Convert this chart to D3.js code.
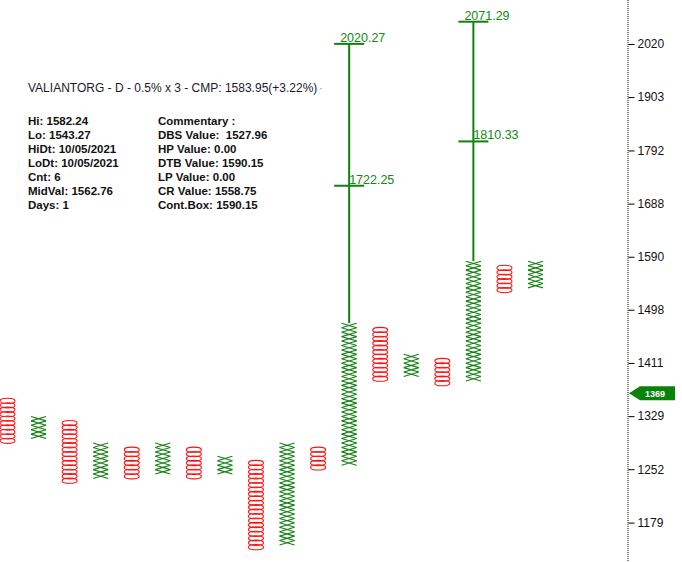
<!DOCTYPE html>
<html>
<head>
<meta charset="utf-8">
<script src="https://cdn.jsdelivr.net/npm/d3@7"></script>
<style>
body { margin:0; background:#fff; }
svg { display:block; font-family: Arial, 'Liberation Sans', sans-serif; }
</style>
</head>
<body>
<svg width="682" height="562"></svg>
<script>
// column data (box edges as prices)
var colType = ['O','X','O','X','O','X','O','X','O','X','O','X','O','X','O','X','O','X'];
var colHigh = [1355.4,1328.6,1322.0,1289.4,1283.0,1289.4,1283.0,1270.3,1264.0,1289.4,1283.0,1475.3,1468.0,1424.7,1417.6,1582.0,1574.1,1582.0];
var colLow  = [1289.4,1295.9,1232.8,1239.0,1239.0,1245.2,1239.0,1245.2,1144.0,1149.7,1251.4,1257.7,1382.7,1389.6,1375.8,1382.7,1527.7,1535.4];

var targetCols = [11, 15];
var targetHigh = [2020.27, 2071.29];
var targetMid  = [1722.25, 1810.33];

var tickValues = [2020,1903,1792,1688,1590,1498,1411,1329,1252,1179];
var lastPrice = 1369;

var infoLeft = ['Hi: 1582.24','Lo: 1543.27','HiDt: 10/05/2021','LoDt: 10/05/2021','Cnt: 6','MidVal: 1562.76','Days: 1'];
var infoRight = ['Commentary :','DBS Value:  1527.96','HP Value: 0.00','DTB Value: 1590.15','LP Value: 0.00','CR Value: 1558.75','Cont.Box: 1590.15'];
var title = 'VALIANTORG - D - 0.5% x 3 - CMP: 1583.95(+3.22%)';

var boxPct = 1.005;
var green = '#137f13';

var svg = d3.select('svg');

var scaleX = d3.scaleLinear().domain([0, 17]).range([7.5, 535.5]);
var scaleY = d3.scaleLog().domain([2020, 1179]).range([44, 522.6]);

// axis on the right
var axisX = 628;
svg.append('line')
    .attr('x1', axisX).attr('x2', axisX)
    .attr('y1', 0).attr('y2', 562)
    .attr('stroke', '#000')
    .attr('stroke-width', 1)
    .attr('stroke-dasharray', '1,1');

var yAxis = svg.append('g')
    .attr('transform', 'translate(' + (axisX + 0.5) + ',0)')
    .call(d3.axisRight(scaleY).tickValues(tickValues).tickSize(6).tickPadding(3).tickFormat(d3.format('d')));
yAxis.select('.domain').remove();
yAxis.selectAll('text').attr('font-size', 12).attr('fill', '#111').attr('font-family', 'Arial, Liberation Sans, sans-serif');
yAxis.selectAll('line').attr('stroke', '#000');

// boxes
var boxes = [];
colType.forEach(function(t, i) {
    var n = Math.round(Math.log(colHigh[i] / colLow[i]) / Math.log(boxPct));
    for (var k = 0; k < n; k++) {
        var top = colHigh[i] / Math.pow(boxPct, k);
        boxes.push({col: i, type: t, top: top, bottom: top / boxPct});
    }
});

var oBoxes = boxes.filter(function(d) { return d.type == 'O'; });
var xBoxes = boxes.filter(function(d) { return d.type == 'X'; });

svg.append('g').selectAll('ellipse')
    .data(oBoxes)
    .enter()
    .append('ellipse')
    .attr('cx', function(d) { return scaleX(d.col); })
    .attr('cy', function(d) { return (scaleY(d.top) + scaleY(d.bottom)) / 2; })
    .attr('rx', 7.5)
    .attr('ry', 2.6)
    .attr('fill', 'none')
    .attr('stroke', '#ff1010')
    .attr('stroke-width', 1.1);

svg.append('g').selectAll('path')
    .data(xBoxes)
    .enter()
    .append('path')
    .attr('d', function(d) {
        var cx = scaleX(d.col), y1 = scaleY(d.top), y2 = scaleY(d.bottom);
        return 'M' + (cx - 7.5) + ',' + y1 + 'L' + (cx + 7.5) + ',' + y2 +
               'M' + (cx + 7.5) + ',' + y1 + 'L' + (cx - 7.5) + ',' + y2;
    })
    .attr('fill', 'none')
    .attr('stroke', green)
    .attr('stroke-width', 1.1);

// price targets
targetCols.forEach(function(c, i) {
    var cx = scaleX(c);
    svg.append('line')
        .attr('x1', cx).attr('x2', cx)
        .attr('y1', scaleY(targetHigh[i]))
        .attr('y2', scaleY(colHigh[c]))
        .attr('stroke', green).attr('stroke-width', 2);
    [targetHigh[i], targetMid[i]].forEach(function(v, j) {
        svg.append('line')
            .attr('x1', cx - 15).attr('x2', cx + 15)
            .attr('y1', scaleY(v)).attr('y2', scaleY(v))
            .attr('stroke', green).attr('stroke-width', 2);
        svg.append('text')
            .attr('x', j == 0 ? cx - 9 : cx)
            .attr('y', scaleY(v) - 2)
            .attr('font-size', 12.5)
            .attr('fill', '#108a10')
            .text(d3.format('.2f')(v));
    });
});

// last price tag
var ty = scaleY(lastPrice) + 3.5;
svg.append('path')
    .attr('d', 'M' + (axisX + 1) + ',' + ty + 'L' + (axisX + 12) + ',' + (ty - 7) + 'L675,' + (ty - 7) + 'L675,' + (ty + 7) + 'L' + (axisX + 12) + ',' + (ty + 7) + 'Z')
    .attr('fill', '#0a820a');
svg.append('text')
    .attr('x', axisX + 17)
    .attr('y', ty + 3.5)
    .attr('font-size', 9)
    .attr('font-weight', 'bold')
    .attr('fill', '#fff')
    .text(lastPrice);

// info text
svg.append('text')
    .attr('x', 28)
    .attr('y', 92)
    .attr('font-size', 12)
    .attr('fill', '#1a1a2a')
    .text(title);
svg.append('text')
    .attr('x', 319)
    .attr('y', 92)
    .attr('font-size', 12)
    .attr('fill', '#999')
    .text('·');

svg.append('g').selectAll('text')
    .data(infoLeft)
    .enter()
    .append('text')
    .attr('x', 28)
    .attr('y', function(d, i) { return 125 + i * 14.05; })
    .attr('font-size', 11.5)
    .attr('font-weight', 'bold')
    .attr('fill', '#111')
    .text(function(d) { return d; });

svg.append('g').selectAll('text')
    .data(infoRight)
    .enter()
    .append('text')
    .attr('x', 158)
    .attr('y', function(d, i) { return 125 + i * 14.05; })
    .attr('font-size', 11.5)
    .attr('font-weight', 'bold')
    .attr('fill', '#111')
    .style('white-space', 'pre')
    .text(function(d) { return d; });
</script>
</body>
</html>
